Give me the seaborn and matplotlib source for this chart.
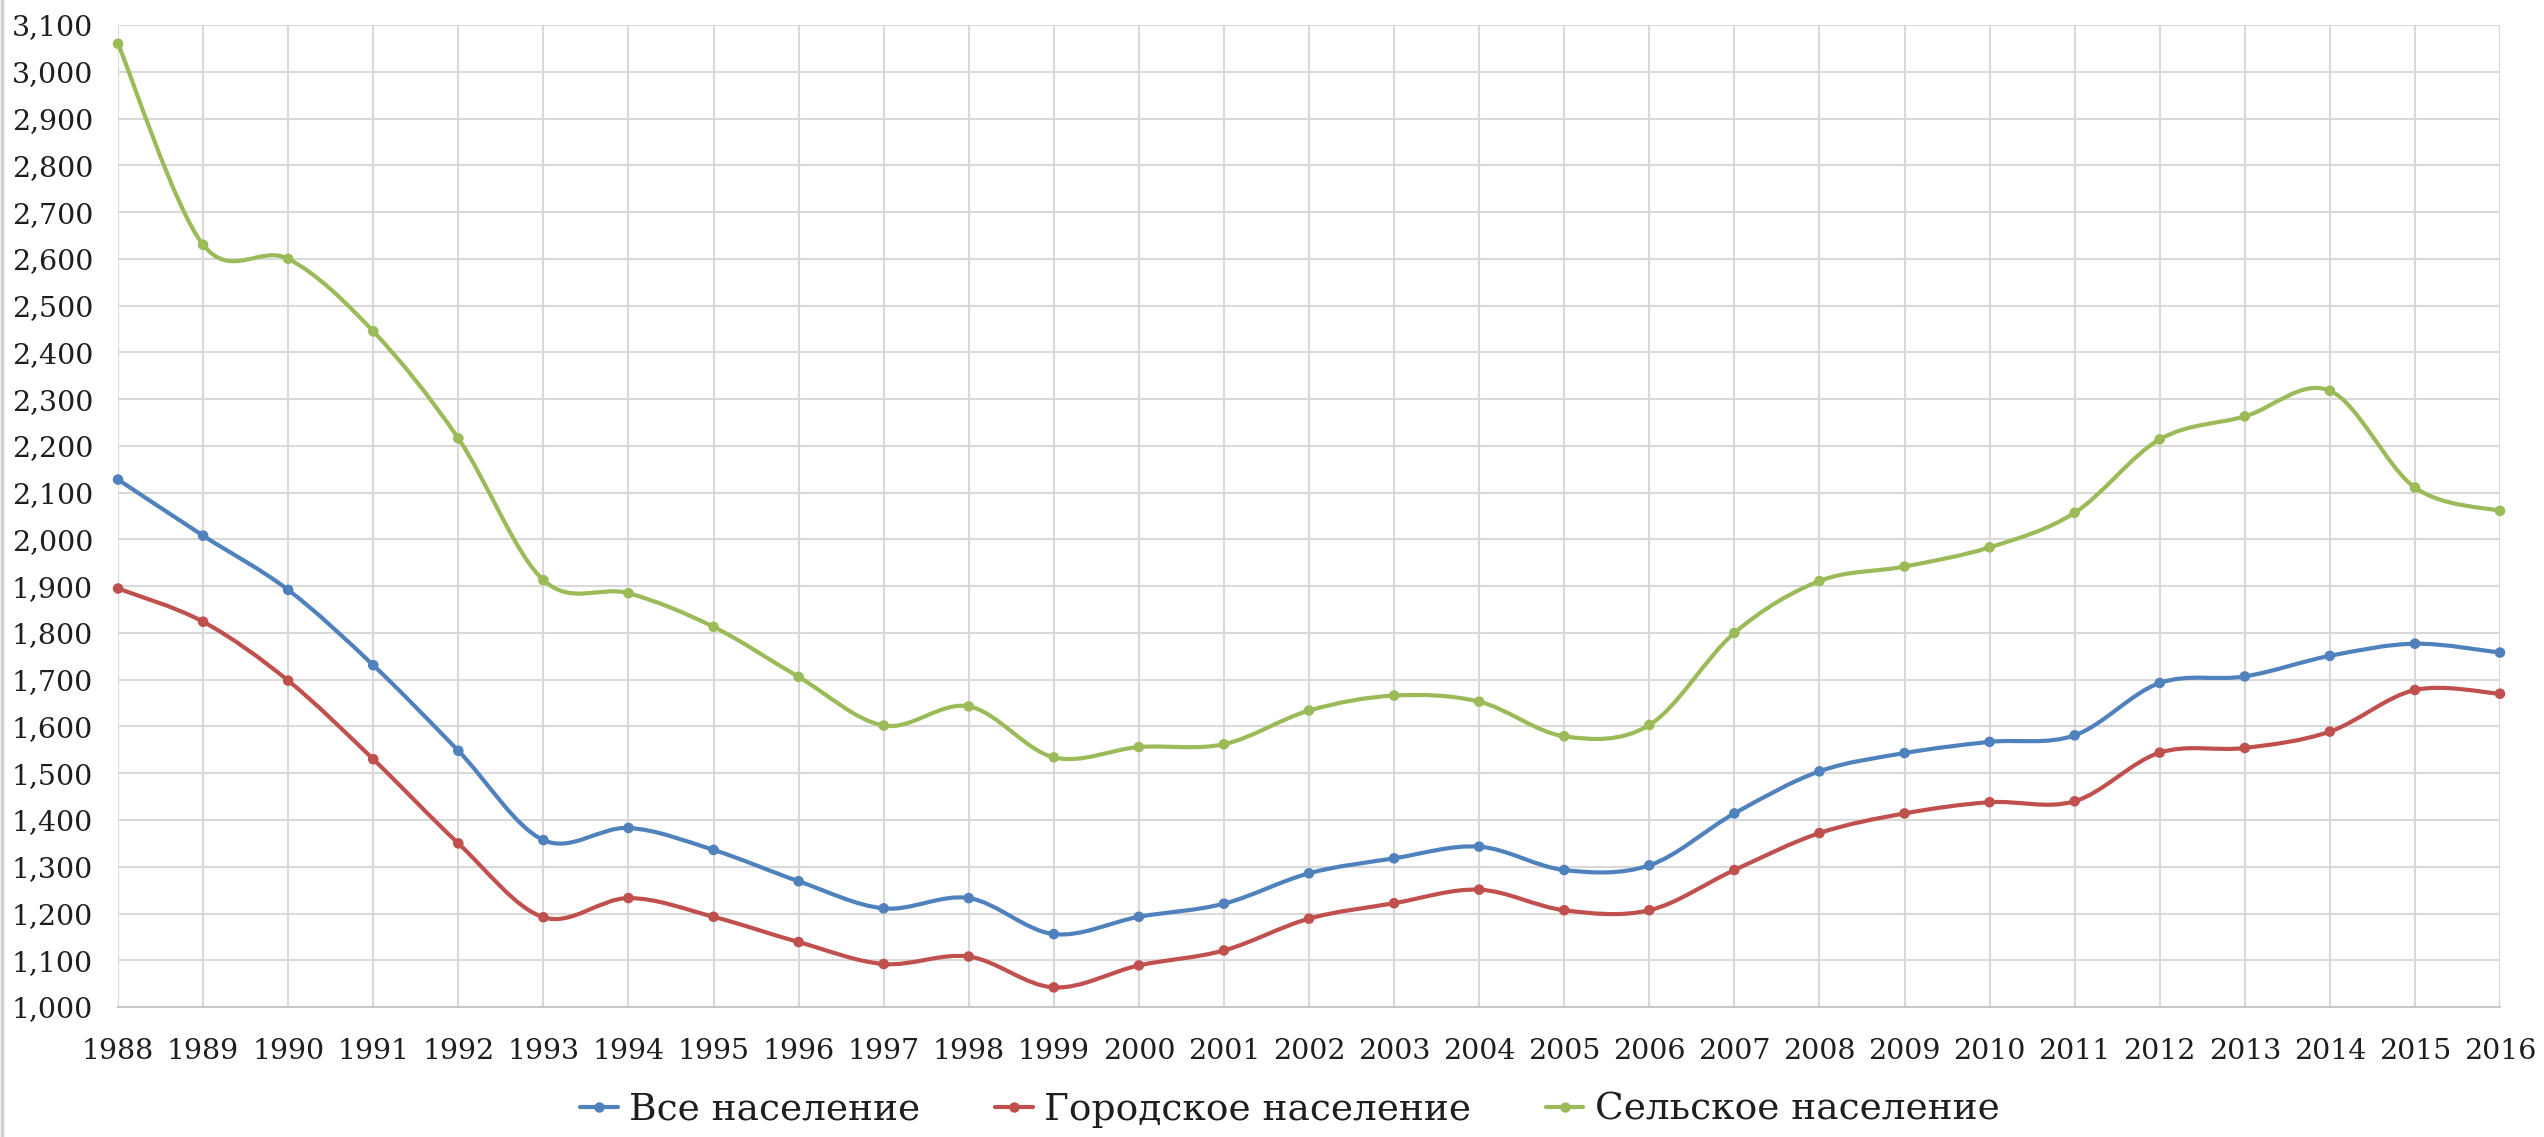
import numpy as np
import pandas as pd
import matplotlib
matplotlib.use("Agg")
import matplotlib.pyplot as plt
import seaborn as sns
from matplotlib.path import Path
from matplotlib.patches import PathPatch
from matplotlib.lines import Line2D
from matplotlib.ticker import FuncFormatter, MultipleLocator

# ---------------- data ----------------
years = list(range(1988, 2017))
total = [2128, 2008, 1892, 1731, 1548, 1357, 1383, 1336, 1269, 1211,
         1233, 1156, 1193, 1221, 1286, 1318, 1343, 1293, 1303, 1414,
         1504, 1543, 1567, 1581, 1693, 1707, 1751, 1777, 1758]
urban = [1895, 1824, 1698, 1530, 1350, 1192, 1233, 1193, 1139, 1092,
         1108, 1042, 1089, 1121, 1189, 1222, 1251, 1207, 1207, 1293,
         1372, 1414, 1438, 1440, 1544, 1554, 1589, 1678, 1670]
rural = [3060, 2630, 2600, 2445, 2216, 1913, 1885, 1813, 1706, 1602,
         1643, 1534, 1556, 1562, 1634, 1666, 1653, 1579, 1603, 1800,
         1911, 1942, 1983, 2057, 2214, 2263, 2318, 2111, 2061]
series_names = ["Все население", "Городское население", "Сельское население"]
colors = ["#4F81BD", "#C0504D", "#9BBB59"]

# ---------------- style ----------------
sns.set_theme(style="white")
plt.rcParams["font.family"] = ["DejaVu Serif"]

fig = plt.figure(figsize=(25.44, 11.37), dpi=100)
ax = fig.add_axes([0.0464, 0.1143, 0.9363, 0.8637])

df = pd.DataFrame({
    "year": years * 3,
    "value": total + urban + rural,
    "series": [series_names[0]] * len(years) + [series_names[1]] * len(years)
              + [series_names[2]] * len(years),
})


def smooth_path(xs, ys, t=1.0 / 6.0):
    pts = np.column_stack([xs, ys]).astype(float)
    n = len(pts)
    verts = [pts[0]]
    codes = [Path.MOVETO]
    for i in range(n - 1):
        p0 = pts[i - 1] if i > 0 else pts[i]
        p1 = pts[i]
        p2 = pts[i + 1]
        p3 = pts[i + 2] if i + 2 < n else pts[i + 1]
        c1 = p1 + (p2 - p0) * t
        c2 = p2 - (p3 - p1) * t
        verts += [c1, c2, p2]
        codes += [Path.CURVE4] * 3
    return Path(verts, codes)


for name, col, vals in zip(series_names, colors, [total, urban, rural]):
    patch = PathPatch(smooth_path(years, vals), facecolor="none",
                      edgecolor=col, lw=3.0, zorder=2, capstyle="round",
                      joinstyle="round")
    ax.add_patch(patch)

sns.scatterplot(data=df, x="year", y="value", hue="series",
                palette=colors, hue_order=series_names, s=58,
                edgecolor="none", legend=False, ax=ax, zorder=3,
                clip_on=False)

ax.set_xlim(1988, 2016)
ax.set_ylim(1000, 3100)
ax.set_xticks(years)
ax.yaxis.set_major_locator(MultipleLocator(100))
ax.yaxis.set_major_formatter(FuncFormatter(lambda v, p: f"{v:,.0f}"))
ax.set_xlabel("")
ax.set_ylabel("")

ax.grid(True, color="#D9D9D9", lw=1.5)
ax.set_axisbelow(True)
for s in ["top", "right", "left"]:
    ax.spines[s].set_visible(False)
ax.spines["bottom"].set_color("#C8C8C8")
ax.spines["bottom"].set_linewidth(1.5)

ax.tick_params(axis="y", length=0, labelsize=20.5, pad=18, colors="#1E1E1E")
ax.tick_params(axis="x", length=0, labelsize=20.5, pad=22, colors="#1E1E1E")

handles = [Line2D([0], [0], color=c, lw=3.0, marker="o", markersize=7.5,
                  markeredgewidth=0) for c in colors]
leg = fig.legend(handles, series_names, loc="center",
                 bbox_to_anchor=(0.507, 0.024), ncol=3, frameon=False,
                 fontsize=27, handlelength=1.0, handletextpad=0.3,
                 columnspacing=2.0)
for t in leg.get_texts():
    t.set_color("#1E1E1E")

# faint left border of the original screenshot
fig.add_artist(Line2D([0.0008, 0.0008], [0, 1], transform=fig.transFigure,
                      color="#D0D0D0", lw=2.5))

fig.savefig("out.png", dpi=100, facecolor="white")
